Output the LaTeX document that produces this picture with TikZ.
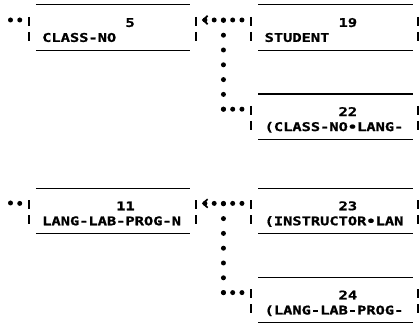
\documentclass[tikz,border=0pt]{standalone}
\usepackage{fontspec}
\newfontfamily\printfont[FakeStretch=1.28, BoldFeatures={FakeBold=1.2}]{DejaVu Sans Mono}
\usetikzlibrary{arrows.meta,positioning}
\newcommand{\toprow}{\rule[-3pt]{0pt}{19.75pt}}
\newcommand{\lowrow}{\rule[-3pt]{0pt}{8pt}}

\begin{document}
\begin{tikzpicture}[x=1pt, y=1pt,
  font=\printfont\bfseries\fontsize{12}{15}\selectfont,
  hline/.style={draw, line width=1.3pt},
  vbar/.style={draw, line width=2pt},
  recbox/.style={rectangle, minimum width=166.5pt, minimum height=45pt, inner sep=0pt,
                 text width=140pt, align=left,
    append after command={
      ([xshift=7pt]\tikzlastnode.north west) edge[hline] ([xshift=-5.5pt]\tikzlastnode.north east)
      ([xshift=7pt]\tikzlastnode.south west) edge[hline] ([xshift=-5.5pt]\tikzlastnode.south east)
      ([yshift=-12pt]\tikzlastnode.north west) edge[vbar] ([yshift=-21pt]\tikzlastnode.north west)
      ([yshift=-27pt]\tikzlastnode.north west) edge[vbar] ([yshift=-36pt]\tikzlastnode.north west)
      ([yshift=-12pt]\tikzlastnode.north east) edge[vbar] ([yshift=-21pt]\tikzlastnode.north east)
      ([yshift=-27pt]\tikzlastnode.north east) edge[vbar] ([yshift=-36pt]\tikzlastnode.north east)}},
  hdots/.style={line width=5pt, line cap=round, dash pattern=on 0pt off 9.25pt, shorten >=-0.3pt},
  vdots/.style={line width=5pt, line cap=round, dash pattern=on 0pt off 14.8pt, shorten >=-0.3pt},
  back/.style={-{Straight Barb[length=4.5pt,width=8.5pt,line width=1.7pt,sep=4pt]}}]
\useasboundingbox (0,0) rectangle (420,328);
% upper set
\node[recbox] (b5) at (112.25,300.5) {\toprow\phantom{000000000}5\\\lowrow CLASS-NO};
\node[recbox, right=55.5pt of b5] (b19) {\toprow\phantom{00000000}19\\\lowrow STUDENT};
\node[recbox, below=43.8pt of b19] (b22) {\toprow\phantom{00000000}22\\\lowrow (CLASS-NO•LANG-};
% lower set
\node[recbox, below=138pt of b5] (b11) {\toprow\phantom{00000000}11\\\lowrow LANG-LAB-PROG-N};
\node[recbox, right=55.5pt of b11] (b23) {\toprow\phantom{00000000}23\\\lowrow (INSTRUCTOR•LAN};
\node[recbox, below=43.8pt of b23] (b24) {\toprow\phantom{00000000}24\\\lowrow (LANG-LAB-PROG-};
\coordinate (in5) at (10.5,308);
\coordinate (in11) at (10.5,125);
\coordinate (ja) at ([xshift=-27.75pt,yshift=7.5pt]b19.west);
\coordinate (jb) at ([xshift=-27.75pt,yshift=7.5pt]b22.west);
\coordinate (jc) at ([xshift=-27.75pt,yshift=7.5pt]b23.west);
\coordinate (jd) at ([xshift=-27.75pt,yshift=7.5pt]b24.west);
% chains
\draw[hdots] (in5) -- ([xshift=-9.25pt,yshift=7.5pt]b5.west);
\draw[hdots, back] ([xshift=-9.25pt,yshift=7.5pt]b19.west) -- ([xshift=2.5pt,yshift=7.5pt]b5.east);
\draw[hdots] ([xshift=-9.25pt,yshift=7.5pt]b22.west) -- (jb);
\draw[vdots] (jb) -- (ja);
\draw[hdots] (in11) -- ([xshift=-9.25pt,yshift=7.5pt]b11.west);
\draw[hdots, back] ([xshift=-9.25pt,yshift=7.5pt]b23.west) -- ([xshift=2.5pt,yshift=7.5pt]b11.east);
\draw[hdots] ([xshift=-9.25pt,yshift=7.5pt]b24.west) -- (jd);
\draw[vdots] (jd) -- (jc);
\end{tikzpicture}
\end{document}
